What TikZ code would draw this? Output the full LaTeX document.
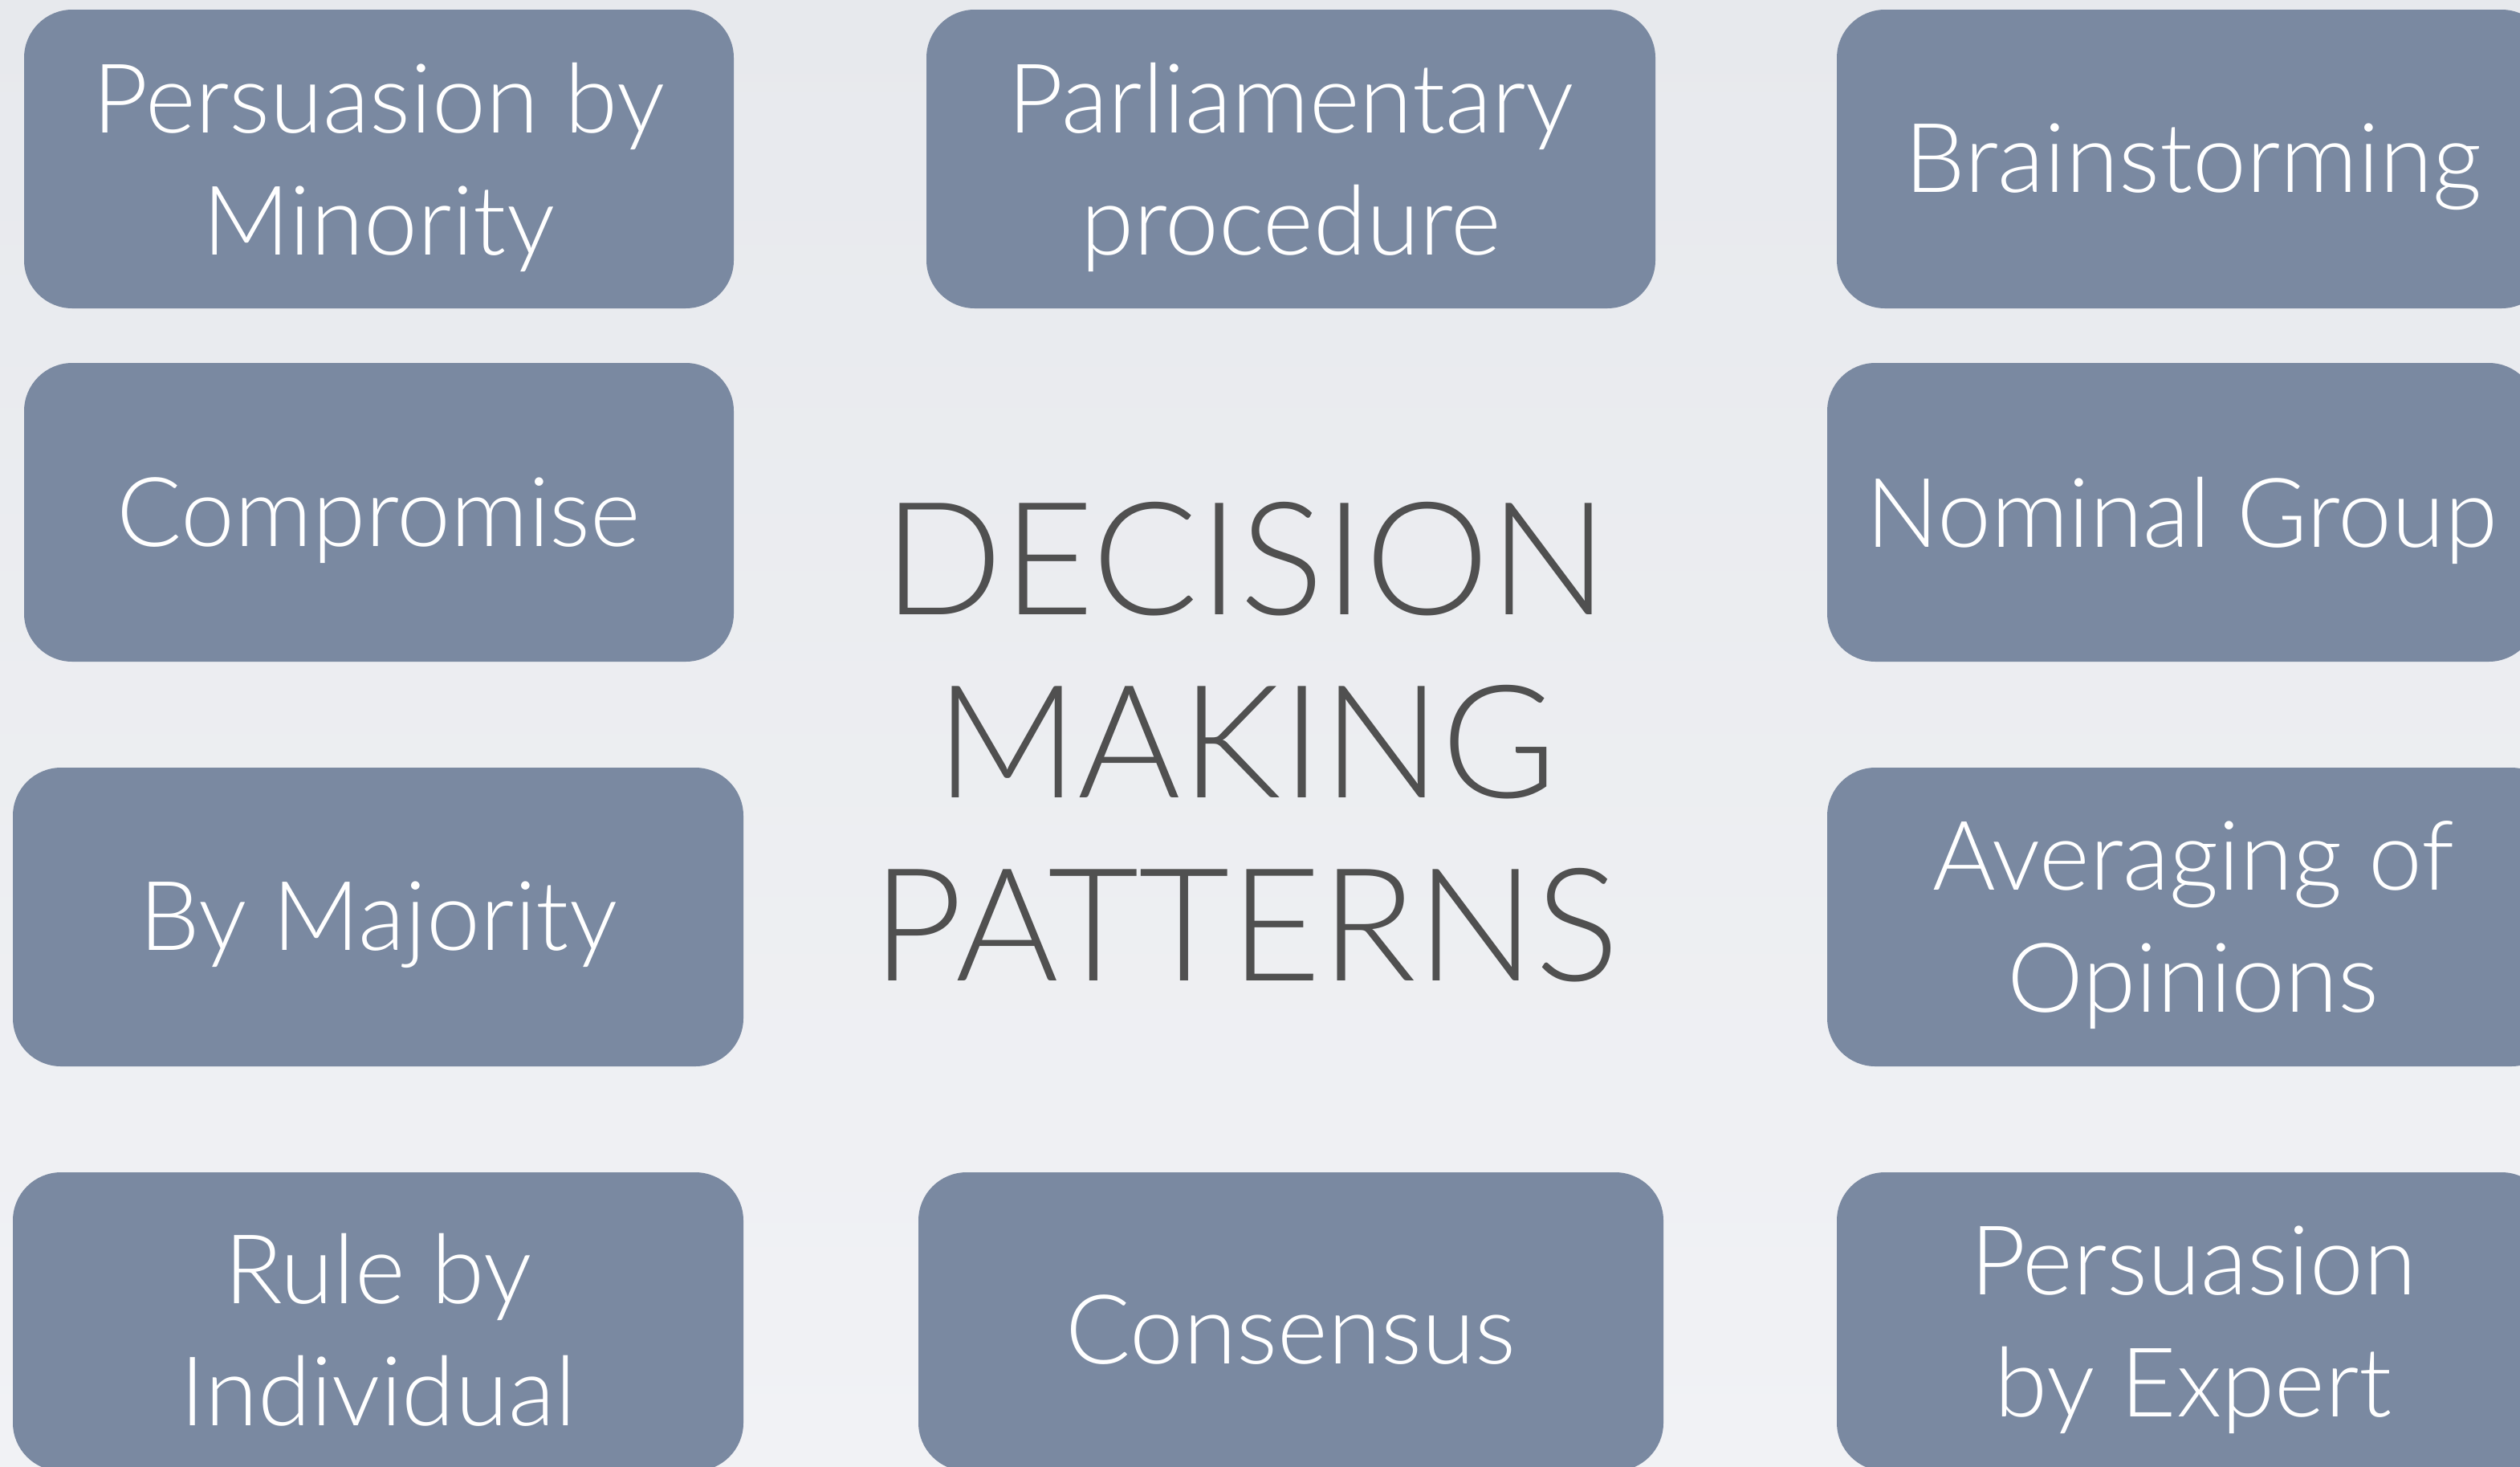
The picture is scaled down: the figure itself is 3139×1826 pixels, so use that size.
\documentclass[tikz,border=0pt]{standalone}
\usepackage{fontspec}
\setmainfont{Lato Light}
\definecolor{boxcol}{RGB}{122,137,161}
\definecolor{bgtop}{RGB}{231,233,237}
\definecolor{bgbot}{RGB}{241,242,245}
\definecolor{titlecol}{RGB}{80,80,80}
\tikzset{
  pbox/.style={fill=boxcol, draw=none, rounded corners=60pt, inner sep=0pt,
    minimum height=372pt},
  ptext/.style={text=white, align=center, inner sep=0pt, yshift=-10pt,
    font=\fontsize{120}{152}\selectfont},
  titletext/.style={text=titlecol, align=center, inner sep=0pt,
    font=\fontsize{196}{228}\selectfont}
}
\begin{document}
\begin{tikzpicture}[x=1pt,y=-1pt]
\useasboundingbox (0,0) rectangle (3139,1826);
\clip (0,0) rectangle (3139,1826);
\shade[top color=bgtop, bottom color=bgbot] (0,0) rectangle (3139,1826);
% left column
\node[pbox, minimum width=884pt] (minority) at (472,198) {};
\node[ptext] (minority-t) at (minority.center) {Persuasion by\\Minority};
\node[pbox, minimum width=884pt] (compromise) at (472,638) {};
\node[ptext] (compromise-t) at (compromise.center) {Compromise};
\node[pbox, minimum width=910pt] (majority) at (471,1142) {};
\node[ptext] (majority-t) at (majority.center) {By Majority};
\node[pbox, minimum width=910pt] (individual) at (471,1646) {};
\node[ptext] (individual-t) at (individual.center) {Rule by\\Individual};
% middle column
\node[pbox, minimum width=908pt] (parliament) at (1608,198) {};
\node[ptext] (parliament-t) at (parliament.center) {Parliamentary\\procedure};
\node[pbox, minimum width=928pt] (consensus) at (1608,1646) {};
\node[ptext] (consensus-t) at (consensus.center) {Consensus};
% right column
\node[pbox, minimum width=888pt] (brainstorm) at (2732,198) {};
\node[ptext] (brainstorm-t) at (brainstorm.center) {Brainstorming};
\node[pbox, minimum width=884pt] (nominal) at (2718,638) {};
\node[ptext] (nominal-t) at (nominal.center) {Nominal Group};
\node[pbox, minimum width=912pt] (averaging) at (2732,1142) {};
\node[ptext] (averaging-t) at (averaging.center) {Averaging of\\Opinions};
\node[pbox, minimum width=888pt] (expert) at (2732,1646) {};
\node[ptext] (expert-t) at (expert.center) {Persuasion\\by Expert};
% title
\node[titletext, yshift=-14pt] (title) at (1552,910) {DECISION\\MAKING\\PATTERNS};
\end{tikzpicture}
\end{document}
